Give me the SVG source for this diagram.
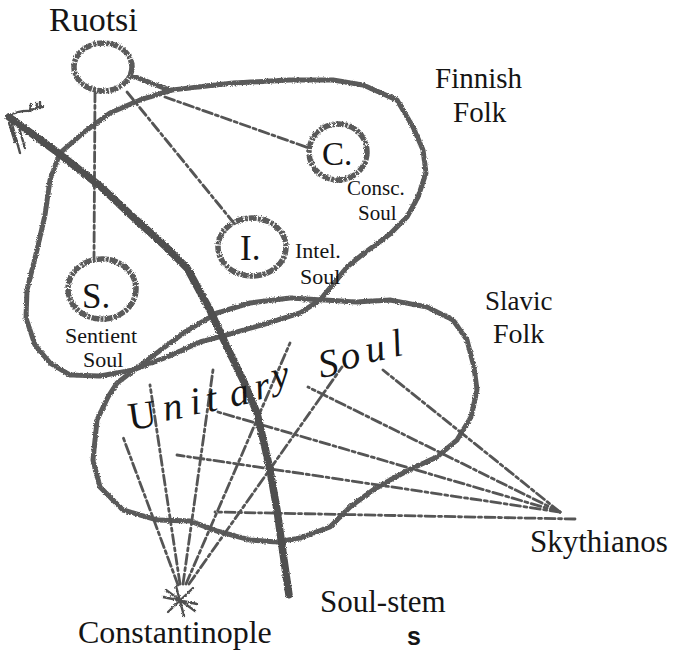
<svg xmlns="http://www.w3.org/2000/svg" width="673" height="654" viewBox="0 0 673 654">
<defs>
<filter id="rough" x="-5%" y="-5%" width="110%" height="110%">
<feTurbulence type="fractalNoise" baseFrequency="0.9" numOctaves="2" seed="3" result="n"/>
<feDisplacementMap in="SourceGraphic" in2="n" scale="3" xChannelSelector="R" yChannelSelector="G"/>
</filter>
</defs>
<style>
text{fill:#151515}
.outline{fill:none;stroke:#5a5a5a;stroke-width:5;stroke-linejoin:round;stroke-linecap:round;stroke-dasharray:12 1.5 4 1.2 7 1}
.circ{fill:none;stroke:#5a5a5a;stroke-width:5.5;stroke-dasharray:8 1.2 3 1}
.dash{fill:none;stroke:#555;stroke-width:2.8;stroke-linecap:round;stroke-dasharray:10 3.5 3 3.5}
.arrow{fill:none;stroke:#4f4f4f;stroke-width:7.5;stroke-linejoin:round;stroke-linecap:round;stroke-dasharray:16 1.5 6 1}
.thin{fill:none;stroke:#4f4f4f;stroke-width:2.4;stroke-linecap:round}
</style>
<rect width="673" height="654" fill="#ffffff"/>

<g id="finnish-folk" font-family="Liberation Serif, DejaVu Serif, serif">
<path class="outline" filter="url(#rough)" d="M172,90 L233,83 L290,80 L333,80 L363,85 L397,100 L413,127 L423,150 L426,173 L418,197 L407,217 L390,234 L363,254 L347,267 L335,282 L320,300 L300,313 L265,324 L230,334 L200,342 L167,357 L133,370 L100,376 L70,375 L50,363 L35,345 L26,318 L27,290 L37,250 L45,215 L50,180 L60,153 L83,133 L110,113 L140,100 Z"/>
<text x="435" y="88" font-size="29">Finnish</text>
<text x="453" y="122" font-size="29">Folk</text>
</g>

<g id="slavic-folk" font-family="Liberation Serif, DejaVu Serif, serif">
<path class="outline" filter="url(#rough)" d="M117,383 L150,358 L185,332 L217,313 L250,303 L290,298 L357,302 L390,300 L427,307 L453,320 L467,340 L474,367 L477,390 L471,417 L457,440 L437,457 L413,468 L390,480 L373,490 L350,507 L330,527 L300,538 L277,542 L250,540 L217,531 L190,521 L157,520 L123,510 L100,487 L93,460 L97,420 L108,397 Z"/>
<text x="485" y="310" font-size="27">Slavic</text>
<text x="493" y="343" font-size="28">Folk</text>
</g>

<g id="ruotsi" font-family="Liberation Serif, DejaVu Serif, serif">
<ellipse class="circ" filter="url(#rough)" cx="103" cy="67" rx="29" ry="24"/>
<path class="outline" filter="url(#rough)" d="M133,76 L172,91"/>
<text x="49" y="31" font-size="34">Ruotsi</text>
</g>

<g id="conscious-soul" font-family="Liberation Serif, DejaVu Serif, serif">
<ellipse class="circ" filter="url(#rough)" cx="338" cy="152" rx="29" ry="28"/>
<text x="322" y="165" font-size="33">C.</text>
<text x="347" y="195" font-size="21">Consc.</text>
<text x="358" y="220" font-size="21">Soul</text>
</g>

<g id="intellectual-soul" font-family="Liberation Serif, DejaVu Serif, serif">
<ellipse class="circ" filter="url(#rough)" cx="252" cy="247" rx="34" ry="29"/>
<text x="240" y="260" font-size="35">I.</text>
<text x="295" y="258" font-size="22">Intel.</text>
<text x="300" y="284" font-size="22">Soul</text>
</g>

<g id="sentient-soul" font-family="Liberation Serif, DejaVu Serif, serif">
<ellipse class="circ" filter="url(#rough)" cx="102" cy="289" rx="34" ry="30"/>
<text x="82" y="308" font-size="35">S.</text>
<text x="65" y="343" font-size="22">Sentient</text>
<text x="83" y="367" font-size="22">Soul</text>
</g>

<g id="connectors">
<path class="dash" d="M95,92 L94,258"/>
<path class="dash" d="M127,92 L233,222"/>
<path class="dash" d="M165,97 L309,148"/>
<path class="dash" d="M178,585 L123,437"/>
<path class="dash" d="M180,584 L150,385"/>
<path class="dash" d="M183,584 L213,370"/>
<path class="dash" d="M186,584 L290,343"/>
<path class="dash" d="M189,584 L342,367"/>
<path class="dash" d="M560,512 L383,370"/>
<path class="dash" d="M560,512 L308,387"/>
<path class="dash" d="M560,512 L218,412"/>
<path class="dash" d="M560,512 L177,455"/>
<path class="dash" d="M575,519 L215,512"/>
</g>

<g id="soul-stem" font-family="Liberation Serif, DejaVu Serif, serif">
<path class="arrow" filter="url(#rough)" d="M9,117 L57,152 L100,186 L133,217 L165,246 L187,268 L210,310 L227,347 L243,380 L257,413 L264,443 L270,470 L277,510 L283,553 L289,595"/>
<path class="thin" filter="url(#rough)" d="M8,116 Q20,110 30,111 Q37,106 43,107 M30,111 L31,104 M36,109 L37,103 M40,108 L40,102"/>
<path class="thin" filter="url(#rough)" d="M12,124 L20,153 M17,121 L25,148 M9,123 L15,142"/>
<text x="320" y="612" font-size="31">Soul-stem</text>
<text x="407" y="645" font-family="Liberation Sans, Arial, sans-serif" font-weight="bold" font-size="25" fill="#333">s</text>
</g>

<g id="unitary-soul" font-family="Liberation Serif, DejaVu Serif, serif" font-style="italic" font-size="39">
<text font-style="normal" x="130" y="430" transform="rotate(-8 130 430)">U</text>
<text x="165" y="421" transform="rotate(-10 165 421)">n</text>
<text x="192" y="415" transform="rotate(-10 192 415)">i</text>
<text x="208" y="412" transform="rotate(-10 208 412)">t</text>
<text x="232" y="407" transform="rotate(-12 232 407)">a</text>
<text x="257" y="400" transform="rotate(-12 257 400)">r</text>
<text x="274" y="389" transform="rotate(-12 274 389)">y</text>
<text x="321" y="378" transform="rotate(-12 321 378)">S</text>
<text x="343" y="370" transform="rotate(-12 343 370)">o</text>
<text x="368" y="363" transform="rotate(-12 368 363)">u</text>
<text x="394" y="357" transform="rotate(-12 394 357)">l</text>
</g>

<g id="skythianos" font-family="Liberation Serif, DejaVu Serif, serif">
<text x="530" y="552" font-size="31">Skythianos</text>
</g>

<g id="constantinople" font-family="Liberation Serif, DejaVu Serif, serif">
<path class="thin" filter="url(#rough)" d="M163,597 L197,604 M168,612 L193,588 M176,586 L184,616 M166,590 L195,611"/>
<text x="78" y="643" font-size="32">Constantinople</text>
</g>
</svg>
